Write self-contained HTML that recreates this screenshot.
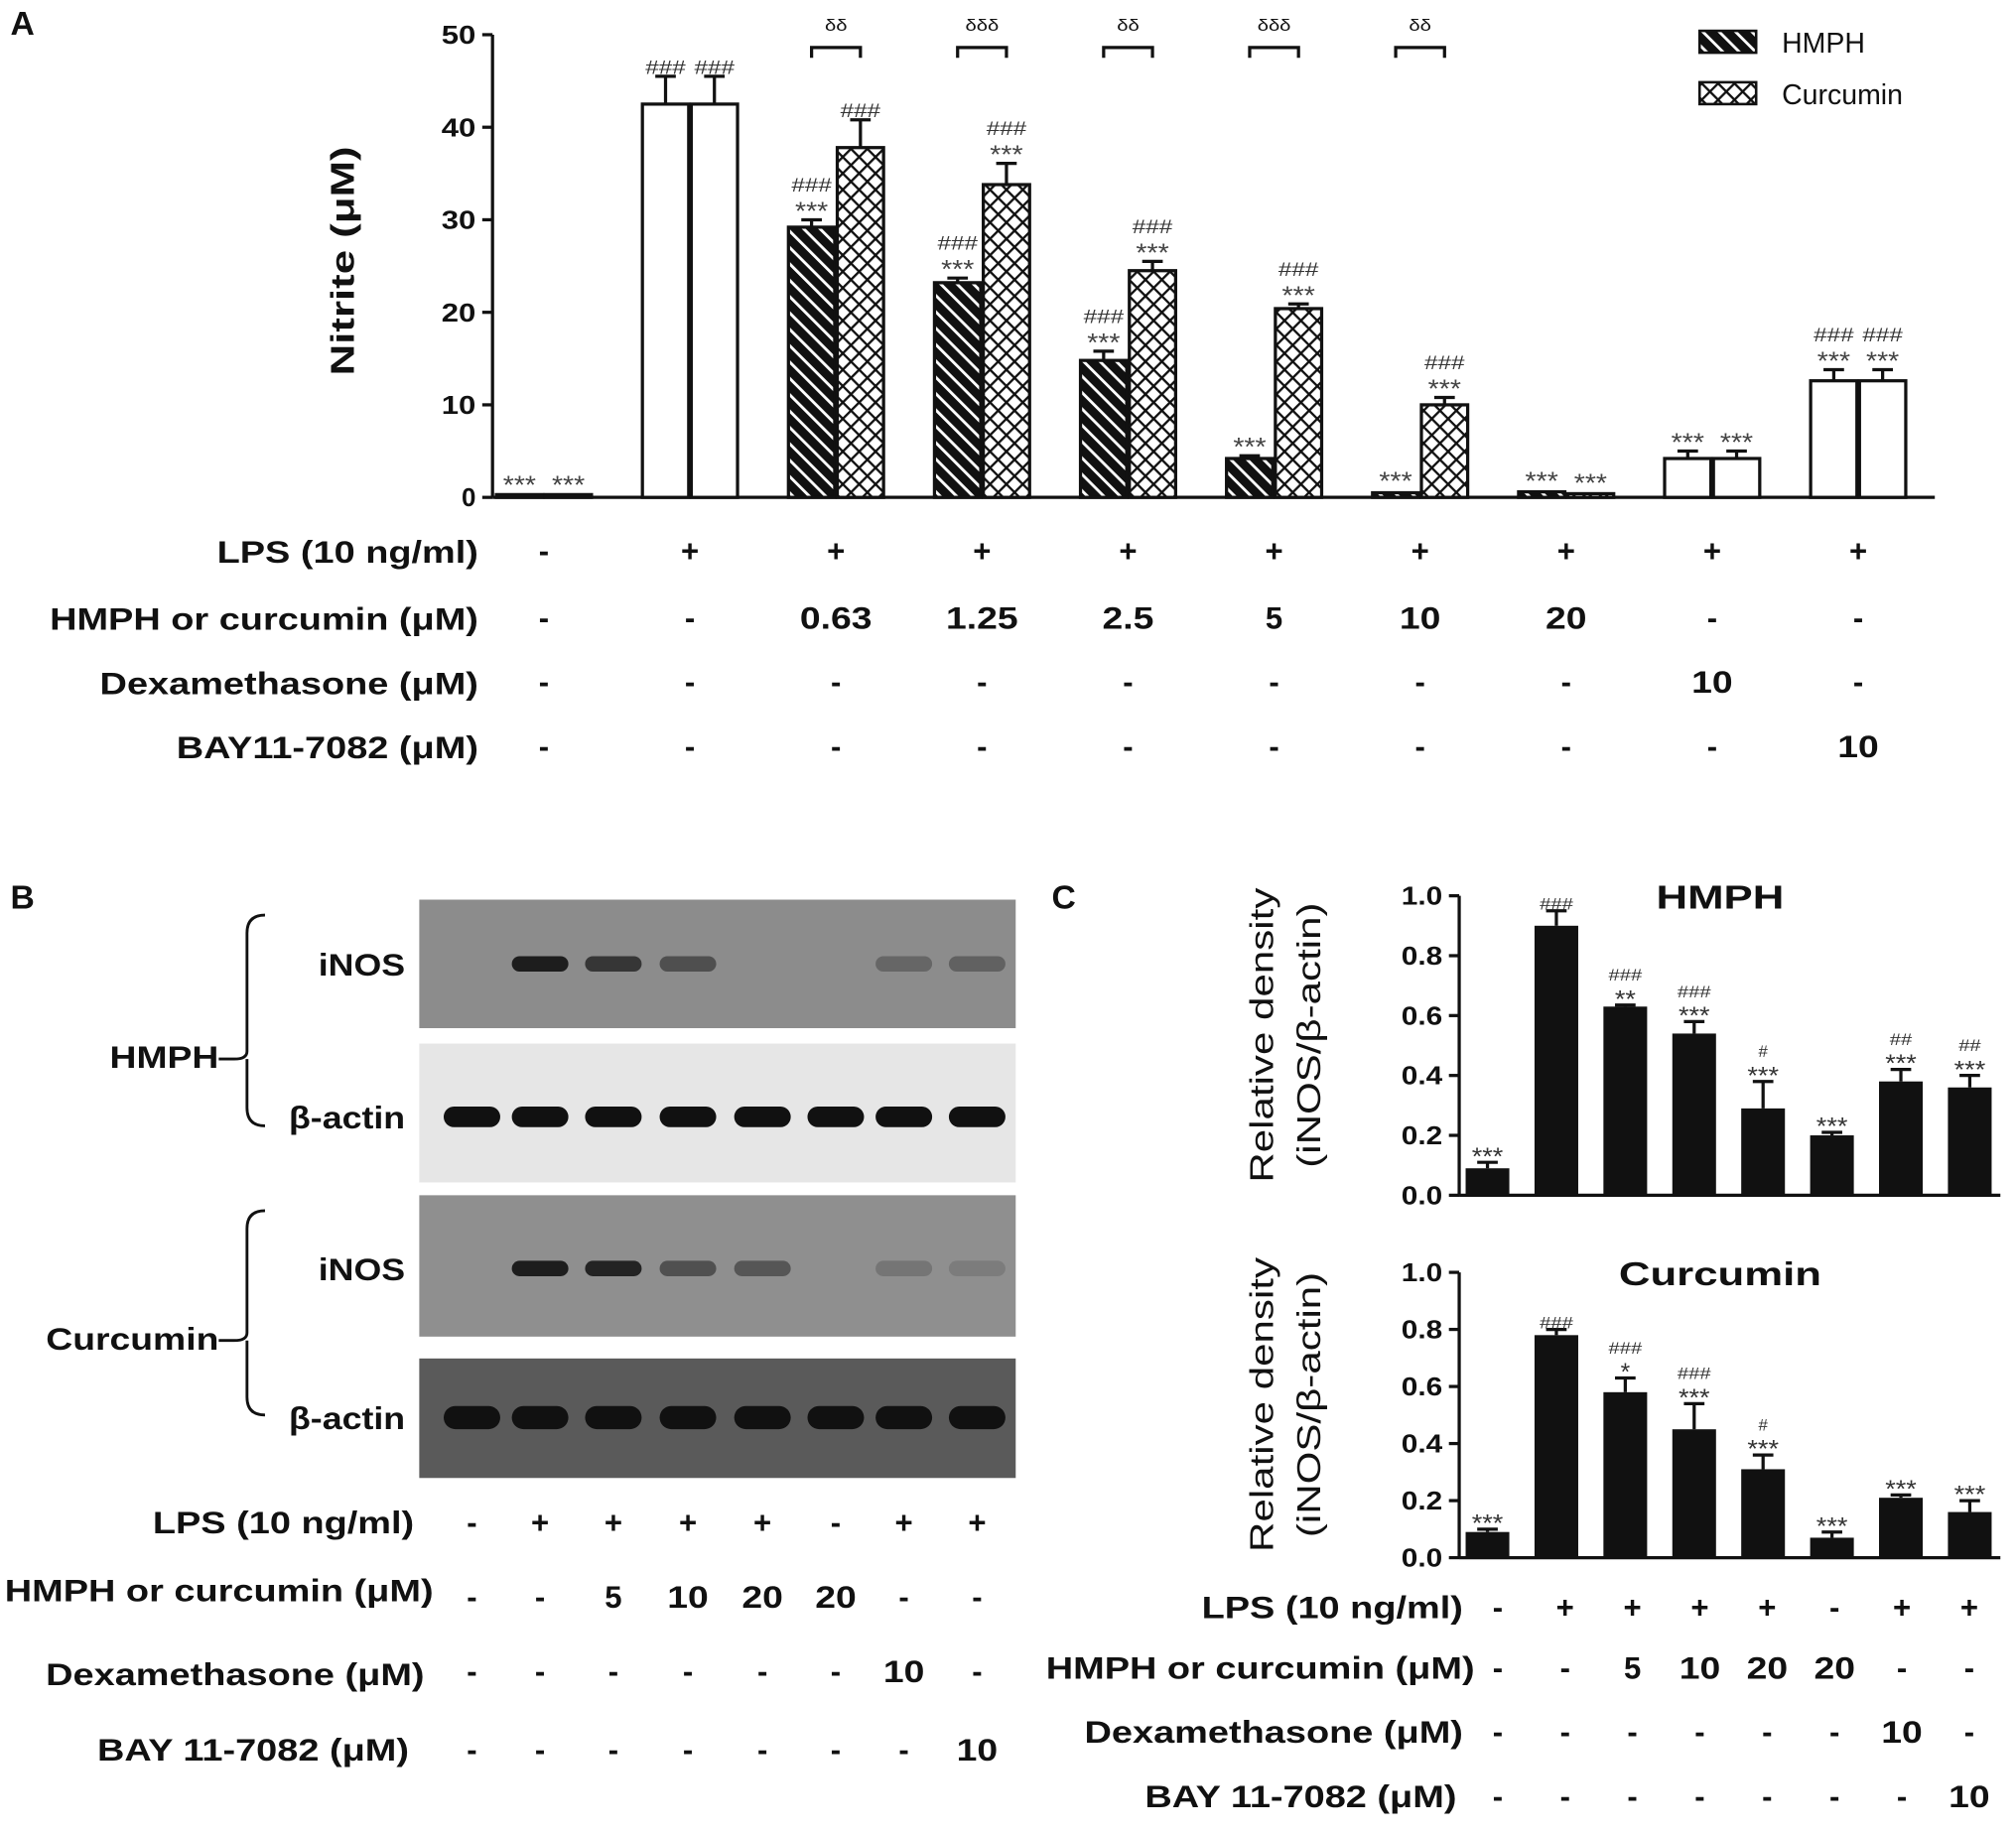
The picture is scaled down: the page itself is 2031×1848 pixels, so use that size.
<!DOCTYPE html>
<html><head><meta charset="utf-8"><style>
html,body{margin:0;padding:0;background:#fff}
svg{display:block}
text{font-family:"Liberation Sans",sans-serif}
</style></head><body>
<svg id="fig" width="2031" height="1848" viewBox="0 0 1568 1427" xmlns="http://www.w3.org/2000/svg">
<defs>
<pattern id="hatchH" patternUnits="userSpaceOnUse" width="9" height="9" patternTransform="rotate(-45)">
<rect width="9" height="9" fill="#111"/><rect x="0" y="0" width="2.2" height="9" fill="#fff"/></pattern>
<pattern id="hatchC" patternUnits="userSpaceOnUse" width="9" height="9" patternTransform="rotate(45)">
<rect width="9" height="9" fill="#fff"/><rect x="0" width="1.8" height="9" fill="#111"/><rect y="0" width="9" height="1.8" fill="#111"/></pattern>
</defs>
<g id="root"></g>
</svg>
<script>
// ---------- Panel A data ----------
const aCategories = ['ctrl','LPS','0.63','1.25','2.5','5','10','20','Dex','BAY'];
const aHmph = [0.3,42.5,29.2,23.2,14.8,4.2,0.5,0.6,4.2,12.6];
const aHmphErr = [0.1,3.0,0.8,0.5,1.0,0.3,0.3,0.2,0.8,1.2];
const aCurc = [0.3,42.5,37.8,33.8,24.5,20.4,10.0,0.4,4.2,12.6];
const aCurcErr = [0.1,3.0,3.0,2.3,1.0,0.5,0.8,0.2,0.8,1.2];
const aHashH = ['','###','###','###','###','','','','','###'];
const aStarH = ['***','','***','***','***','***','***','***','***','***'];
const aHashC = ['','###','###','###','###','###','###','','','###'];
const aStarC = ['***','','','***','***','***','***','***','***','***'];
const aDelta = ['','','δδ','δδδ','δδ','δδδ','δδ','','',''];
const aYTicks = [0,10,20,30,40,50];
const aRowLabels = ['LPS (10 ng/ml)','HMPH or curcumin (μM)','Dexamethasone (μM)','BAY11-7082 (μM)'];
const aRows = [['-','+','+','+','+','+','+','+','+','+'],['-','-','0.63','1.25','2.5','5','10','20','-','-'],['-','-','-','-','-','-','-','-','10','-'],['-','-','-','-','-','-','-','-','-','10']];
// ---------- Panel C data ----------
const cLanes = ['ctrl','LPS','5','10','20','20only','Dex','BAY'];
const cHmph = [0.09,0.90,0.63,0.54,0.29,0.20,0.38,0.36];
const cHmphErr = [0.02,0.05,0.005,0.04,0.09,0.01,0.04,0.04];
const cHmphHash = ['','###','###','###','#','','##','##'];
const cHmphStar = ['***','','**','***','***','***','***','***'];
const cCurc = [0.09,0.78,0.58,0.45,0.31,0.07,0.21,0.16];
const cCurcErr = [0.01,0.02,0.05,0.09,0.05,0.02,0.01,0.04];
const cCurcHash = ['','###','###','###','#','','',''];
const cCurcStar = ['***','','*','***','***','***','***','***'];
const cYTicks = [0,0.2,0.4,0.6,0.8,1.0];
const bRowLabels = ['LPS (10 ng/ml)','HMPH or curcumin (μM)','Dexamethasone (μM)','BAY 11-7082 (μM)'];
const bRows = [['-','+','+','+','+','-','+','+'],['-','-','5','10','20','20','-','-'],['-','-','-','-','-','-','10','-'],['-','-','-','-','-','-','-','10']];
const blotIntensity = {hI:[0,0.9,0.7,0.5,0,0,0.3,0.35],cI:[0,0.9,0.85,0.5,0.45,0,0.2,0.15]};

const NS='http://www.w3.org/2000/svg';
const root=document.getElementById('root');
function mk(tag,attrs,parent,txt){const e=document.createElementNS(NS,tag);for(const k in attrs)e.setAttribute(k,attrs[k]);if(txt!==undefined)e.textContent=txt;(parent||root).appendChild(e);return e;}
function T(x,y,s,size,anchor,weight,parent,stretch){const e=mk('text',{x:x,y:y,'font-size':size,'text-anchor':anchor||'middle','font-weight':weight||'normal',fill:'#111'},parent,s);
  const f=stretch||1.2; if(s.length>1&&f!==1){const L=e.getComputedTextLength();if(L>0){e.setAttribute('textLength',L*f);e.setAttribute('lengthAdjust','spacingAndGlyphs');}} return e;}

// ===== Panel A =====
const gA=mk('g',{});


const aX0=383,aX1=1505,aY0=387,aYtop=27;
const ay=v=>aY0-(v/50)*(aY0-aYtop);
const aCenter=i=>423+i*113.6;
T(8,27,'A',26,'start','bold',gA);
mk('line',{x1:aX0,y1:aYtop,x2:aX0,y2:aY0,stroke:'#111','stroke-width':2.5},gA);
mk('line',{x1:aX0,y1:aY0,x2:aX1,y2:aY0,stroke:'#111','stroke-width':2.5},gA);
aYTicks.forEach(t=>{mk('line',{x1:aX0-8,y1:ay(t),x2:aX0,y2:ay(t),stroke:'#111','stroke-width':2.5},gA);T(aX0-13,ay(t)+7,String(t),20,'end','bold',gA);});
const yt=T(0,0,'Nitrite (μM)',26,'middle','bold',gA,1.3);yt.setAttribute('transform','translate(275,203) rotate(-90)');

const bw=36;
aCategories.forEach((c,i)=>{
  const cx=aCenter(i);const white=(i<2||i>7);
  [[aHmph,aHmphErr,aHashH,aStarH,cx-bw-1,'url(#hatchH)'],[aCurc,aCurcErr,aHashC,aStarC,cx+1,'url(#hatchC)']].forEach((s,k)=>{
    const v=s[0][i],e=s[1][i],x=s[4];
    const r=mk('rect',{x:x,y:ay(v),width:bw,height:Math.max(aY0-ay(v),1.5),fill:white?'#fff':s[5],stroke:'#111','stroke-width':2.5},gA);
    
    
    const bx=x+bw/2,top=ay(v+e);
    if(v>1){mk('line',{x1:bx,y1:ay(v),x2:bx,y2:top,stroke:'#111','stroke-width':2.5},gA);mk('line',{x1:bx-8,y1:top,x2:bx+8,y2:top,stroke:'#111','stroke-width':2.5},gA);}
    let ly=top-6;
    if(s[3][i]){T(bx,ly+6,s[3][i],20,'middle','normal',gA,1.1).setAttribute('fill','#444');ly-=20;}
    if(s[2][i]){T(bx,ly+4,s[2][i],15,'middle','normal',gA,1.25).setAttribute('fill','#333');}
  });
  if(aDelta[i]){mk('path',{d:`M${cx-19},45 v-8 h38 v8`,fill:'none',stroke:'#111','stroke-width':2.5},gA);T(cx,24,aDelta[i],13,'middle','normal',gA);}
  aRows.forEach((row,r)=>T(cx,[437,489,539,589][r],row[i],24,'middle','bold',gA));
});
aRowLabels.forEach((l,r)=>T(372,[438,490,540,590][r],l,24,'end','bold',gA,1.22));
// legend
const lg=mk('g',{});


mk('rect',{x:1322,y:24,width:44,height:17,fill:'url(#hatchH)',stroke:'#111','stroke-width':2},lg);T(1386,41,'HMPH',22,'start','normal',lg,1);
mk('rect',{x:1322,y:64,width:44,height:17,fill:'url(#hatchC)',stroke:'#111','stroke-width':2},lg);T(1386,81,'Curcumin',22,'start','normal',lg,1);

// ===== Panel B =====
const gB=mk('g',{});


T(8,707,'B',26,'start','bold',gB);
const laneX=[367,420,477,535,593,650,703,760];
const blots=[[700,800,'#8c8c8c',blotIntensity.hI,'iNOS',6],[812,920,'#e6e6e6',[1,1,1,1,1,1,1,1],'β-actin',8],[930,1040,'#8f8f8f',blotIntensity.cI,'iNOS',6],[1057,1150,'#5a5a5a',[1,1,1,1,1,1,1,1],'β-actin',9]];
blots.forEach((b,j)=>{
  const g=mk('g',{},gB);
  
  
  mk('rect',{x:326,y:b[0],width:464,height:b[1]-b[0],fill:b[2]},g);
  const by=j===0?750:j===1?869:j===2?987:1103;
  laneX.forEach((x,i)=>{const a=b[3][i];if(a>0)mk('rect',{x:x-22,y:by-b[5],width:44,height:b[5]*2,rx:b[5],fill:'#111','fill-opacity':a},g);});
  T(315,by+9,b[4],24,'end','bold',gB,1.15);
});
[['HMPH',700,880,822],['Curcumin',930,1105,1041]].forEach(s=>{
  mk('path',{d:`M206,${s[1]+12} q-14,0 -14,14 v${(s[3]-s[1])-30} q0,6 -10,6 h-12 m22,0 q0,6 0,6 v${(s[2]-s[3])-26} q0,14 14,14`,fill:'none',stroke:'#111','stroke-width':2.2},gB);
  T(170,s[3]+9,s[0],24,'end','bold',gB,1.2);
});
bRowLabels.forEach((l,r)=>T([322,337,330,318][r],[1193,1246,1311,1370][r],l,24,'end','bold',gB,1.22));
bRows.forEach((row,r)=>row.forEach((v,i)=>T(laneX[i],[1193,1251,1309,1370][r],v,24,'middle','bold',gB)));

// ===== Panel C =====
const gC=mk('g',{});


T(818,707,'C',26,'start','bold',gC);
const cLaneX=i=>1157+i*53.6;
function cChart(vals,errs,hash,star,y0,ytop,title,name){
  const g=mk('g',{},gC);
  
  
  const cy=v=>y0-v*(y0-ytop);
  mk('line',{x1:1135,y1:ytop,x2:1135,y2:y0,stroke:'#111','stroke-width':2.5},g);
  mk('line',{x1:1135,y1:y0,x2:1556,y2:y0,stroke:'#111','stroke-width':2.5},g);
  cYTicks.forEach(t=>{mk('line',{x1:1127,y1:cy(t),x2:1135,y2:cy(t),stroke:'#111','stroke-width':2.5},g);T(1122,cy(t)+7,t.toFixed(1),20,'end','bold',g,1.15);});
  const tt=T(1338,ytop+10,title,26,'middle','bold',g,1.3);
  const yl=T(0,0,'Relative density',26,'middle','normal',g,1.25);yl.setAttribute('transform',`translate(990,${(y0+ytop)/2-8}) rotate(-90)`);
  const yl2=T(0,0,'(iNOS/β-actin)',26,'middle','normal',g,1.25);yl2.setAttribute('transform',`translate(1027,${(y0+ytop)/2-8}) rotate(-90)`);
  vals.forEach((v,i)=>{
    const x=cLaneX(i);
    const r=mk('rect',{x:x-17,y:cy(v),width:34,height:y0-cy(v),fill:'#111'},g);
    
    
    const top=cy(v+errs[i]);
    mk('line',{x1:x,y1:cy(v),x2:x,y2:top,stroke:'#111','stroke-width':2.5},g);
    mk('line',{x1:x-8,y1:top,x2:x+8,y2:top,stroke:'#111','stroke-width':2.5},g);
    let ly=top-4;
    if(star[i]){T(x,ly+6,star[i],19,'middle','normal',g,1.1).setAttribute('fill','#333');ly-=18;}
    if(hash[i]){T(x,ly+3,hash[i],13,'middle','normal',g,1.2).setAttribute('fill','#333');}
  });
}
cChart(cHmph,cHmphErr,cHmphHash,cHmphStar,930,697,'HMPH','hmph-density-chart');
cChart(cCurc,cCurcErr,cCurcHash,cCurcStar,1212,990,'Curcumin','curcumin-density-chart');
bRowLabels.forEach((l,r)=>T([1138,1147,1138,1133][r],[1259,1306,1356,1406][r],l,24,'end','bold',gC,1.22));
bRows.forEach((row,r)=>row.forEach((v,i)=>T(1165+i*52.4,[1259,1306,1356,1406][r],v,24,'middle','bold',gC)));
</script>
</body></html>
